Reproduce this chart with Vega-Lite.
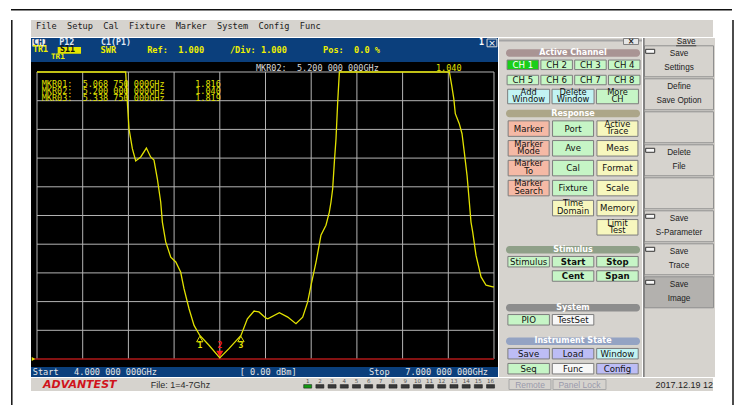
{
  "$schema": "https://vega.github.io/schema/vega-lite/v6.json",
  "background": "white",
  "padding": {"left": 10, "top": 9, "right": 0, "bottom": 0},
  "config": {"view": {"stroke": null}, "concat": {"spacing": 0}, "font": "DejaVu Sans", "text": {"lineBreak": "\n"}},
  "datasets": {
    "trace": [
      {"f": 4.0, "swr": 11.0}, {"f": 4.582, "swr": 11.0}, {"f": 4.593, "swr": 9.96}, {"f": 4.604, "swr": 9.02},
      {"f": 4.626, "swr": 8.33}, {"f": 4.648, "swr": 7.9}, {"f": 4.681, "swr": 8.04}, {"f": 4.718, "swr": 8.35},
      {"f": 4.746, "swr": 8.04}, {"f": 4.768, "swr": 7.93}, {"f": 4.79, "swr": 7.28}, {"f": 4.812, "swr": 6.47},
      {"f": 4.823, "swr": 5.77}, {"f": 4.845, "swr": 5.08}, {"f": 4.878, "swr": 4.55}, {"f": 4.911, "swr": 4.38},
      {"f": 4.943, "swr": 4.03}, {"f": 4.965, "swr": 3.45}, {"f": 4.998, "swr": 2.75}, {"f": 5.031, "swr": 2.17},
      {"f": 5.069, "swr": 1.82}, {"f": 5.129, "swr": 1.48}, {"f": 5.2, "swr": 1.04}, {"f": 5.26, "swr": 1.36},
      {"f": 5.339, "swr": 1.82}, {"f": 5.381, "swr": 2.4}, {"f": 5.425, "swr": 2.67}, {"f": 5.457, "swr": 2.64},
      {"f": 5.501, "swr": 2.43}, {"f": 5.515, "swr": 2.4}, {"f": 5.591, "swr": 2.61}, {"f": 5.646, "swr": 2.46},
      {"f": 5.7, "swr": 2.23}, {"f": 5.744, "swr": 2.46}, {"f": 5.777, "swr": 2.99}, {"f": 5.799, "swr": 3.57},
      {"f": 5.832, "swr": 4.38}, {"f": 5.864, "swr": 5.31}, {"f": 5.897, "swr": 5.66}, {"f": 5.919, "swr": 6.12},
      {"f": 5.93, "swr": 6.47}, {"f": 5.941, "swr": 6.93}, {"f": 5.952, "swr": 7.86}, {"f": 5.963, "swr": 8.68},
      {"f": 5.974, "swr": 9.96}, {"f": 5.985, "swr": 11.0}, {"f": 6.707, "swr": 11.0}, {"f": 6.722, "swr": 10.54},
      {"f": 6.736, "swr": 10.07}, {"f": 6.746, "swr": 9.55}, {"f": 6.772, "swr": 9.2}, {"f": 6.79, "swr": 8.85},
      {"f": 6.805, "swr": 8.21}, {"f": 6.823, "swr": 7.4}, {"f": 6.838, "swr": 6.47}, {"f": 6.849, "swr": 5.77},
      {"f": 6.86, "swr": 5.43}, {"f": 6.882, "swr": 4.61}, {"f": 6.915, "swr": 3.86}, {"f": 6.948, "swr": 3.57},
      {"f": 6.992, "swr": 3.51}, {"f": 7.0, "swr": 3.51}
    ],
    "markers": [
      {"marker": "1", "f": 5.06875, "swr": 1.816},
      {"marker": "2", "f": 5.2, "swr": 1.04},
      {"marker": "3", "f": 5.33875, "swr": 1.819}
    ],
    "buttons": [
      {"label": "CH 1", "kind": "active", "grp": "ch", "slot": 3, "col": 1},
      {"label": "CH 2", "kind": "channel", "grp": "ch", "slot": 3, "col": 2},
      {"label": "CH 3", "kind": "channel", "grp": "ch", "slot": 3, "col": 3},
      {"label": "CH 4", "kind": "channel", "grp": "ch", "slot": 3, "col": 4},
      {"label": "CH 5", "kind": "channel", "grp": "ch", "slot": 4, "col": 1},
      {"label": "CH 6", "kind": "channel", "grp": "ch", "slot": 4, "col": 2},
      {"label": "CH 7", "kind": "channel", "grp": "ch", "slot": 4, "col": 3},
      {"label": "CH 8", "kind": "channel", "grp": "ch", "slot": 4, "col": 4},
      {"label": "Add\nWindow", "kind": "window", "grp": "add", "slot": 5, "col": 1},
      {"label": "Delete\nWindow", "kind": "window", "grp": "add", "slot": 5, "col": 2},
      {"label": "More\nCH", "kind": "setup", "grp": "add", "slot": 5, "col": 3},
      {"label": "Marker", "kind": "marker", "grp": "resp", "slot": 7, "col": 1},
      {"label": "Port", "kind": "setup", "grp": "resp", "slot": 7, "col": 2},
      {"label": "Active\nTrace", "kind": "display", "grp": "resp", "slot": 7, "col": 3},
      {"label": "Marker\nMode", "kind": "marker", "grp": "resp", "slot": 8, "col": 1},
      {"label": "Ave", "kind": "setup", "grp": "resp", "slot": 8, "col": 2},
      {"label": "Meas", "kind": "display", "grp": "resp", "slot": 8, "col": 3},
      {"label": "Marker\nTo", "kind": "marker", "grp": "resp", "slot": 9, "col": 1},
      {"label": "Cal", "kind": "setup", "grp": "resp", "slot": 9, "col": 2},
      {"label": "Format", "kind": "display", "grp": "resp", "slot": 9, "col": 3},
      {"label": "Marker\nSearch", "kind": "marker", "grp": "resp", "slot": 10, "col": 1},
      {"label": "Fixture", "kind": "setup", "grp": "resp", "slot": 10, "col": 2},
      {"label": "Scale", "kind": "display", "grp": "resp", "slot": 10, "col": 3},
      {"label": "Time\nDomain", "kind": "display", "grp": "resp", "slot": 11, "col": 2},
      {"label": "Memory", "kind": "display", "grp": "resp", "slot": 11, "col": 3},
      {"label": "Limit\nTest", "kind": "display", "grp": "resp", "slot": 12, "col": 3},
      {"label": "Stimulus", "kind": "setup", "grp": "stim", "slot": 14, "col": 1},
      {"label": "Start", "kind": "setup", "grp": "stim", "slot": 14, "col": 2},
      {"label": "Stop", "kind": "setup", "grp": "stim", "slot": 14, "col": 3},
      {"label": "Cent", "kind": "setup", "grp": "stim", "slot": 15, "col": 2},
      {"label": "Span", "kind": "setup", "grp": "stim", "slot": 15, "col": 3},
      {"label": "PIO", "kind": "setup", "grp": "sys", "slot": 17, "col": 1},
      {"label": "TestSet", "kind": "other", "grp": "sys", "slot": 17, "col": 2},
      {"label": "Save", "kind": "file", "grp": "state", "slot": 19, "col": 1},
      {"label": "Load", "kind": "file", "grp": "state", "slot": 19, "col": 2},
      {"label": "Window", "kind": "window", "grp": "state", "slot": 19, "col": 3},
      {"label": "Seq", "kind": "setup", "grp": "state", "slot": 20, "col": 1},
      {"label": "Func", "kind": "other", "grp": "state", "slot": 20, "col": 2},
      {"label": "Config", "kind": "file", "grp": "state", "slot": 20, "col": 3}
    ],
    "pills": [
      {"label": "Active Channel", "kind": "hdr_channel", "slot": 2},
      {"label": "Response", "kind": "hdr_response", "slot": 6},
      {"label": "Stimulus", "kind": "hdr_stimulus", "slot": 13},
      {"label": "System", "kind": "hdr_system", "slot": 16},
      {"label": "Instrument State", "kind": "hdr_state", "slot": 18}
    ],
    "softkeys": [
      {"slot": 1, "label": "Save\nSettings", "ind": true, "kind": "softkey"},
      {"slot": 2, "label": "Define\nSave Option", "ind": false, "kind": "softkey"},
      {"slot": 3, "label": "", "ind": false, "kind": "softkey"},
      {"slot": 4, "label": "Delete\nFile", "ind": true, "kind": "softkey"},
      {"slot": 5, "label": "", "ind": false, "kind": "softkey"},
      {"slot": 6, "label": "Save\nS-Parameter", "ind": true, "kind": "softkey"},
      {"slot": 7, "label": "Save\nTrace", "ind": true, "kind": "softkey"},
      {"slot": 8, "label": "Save\nImage", "ind": true, "kind": "pressed"}
    ],
    "ports": [
      {"n": 1, "state": "on"}, {"n": 2, "state": "off"}, {"n": 3, "state": "off"}, {"n": 4, "state": "off"},
      {"n": 5, "state": "off"}, {"n": 6, "state": "off"}, {"n": 7, "state": "off"}, {"n": 8, "state": "off"},
      {"n": 9, "state": "off"}, {"n": 10, "state": "off"}, {"n": 11, "state": "off"}, {"n": 12, "state": "off"},
      {"n": 13, "state": "off"}, {"n": 14, "state": "off"}, {"n": 15, "state": "off"}, {"n": 16, "state": "off"}
    ]
  },
  "spacing": 0,
  "resolve": {"scale": {"color": "independent"}},
  "vconcat": [
    {
      "width": 721, "height": 10,
      "data": {"values": [{}]},
      "mark": {"type": "rule", "color": "#111111", "strokeWidth": 1.5},
      "encoding": {"y": {"datum": 0.8, "type": "quantitative", "scale": {"domain": [0, 10], "reverse": true, "nice": false, "zero": false}, "axis": null}}
    },
    {
      "spacing": 0,
      "resolve": {"scale": {"color": "independent"}},
      "hconcat": [
        {
          "width": 20, "height": 386,
          "data": {"values": [{}]},
          "mark": {"type": "rule", "color": "#111111", "strokeWidth": 1.5},
          "encoding": {"x": {"datum": 0.8, "type": "quantitative", "scale": {"domain": [0, 20], "nice": false, "zero": false}, "axis": null}}
        },
        {
          "spacing": 0,
          "resolve": {"scale": {"color": "independent"}},
          "vconcat": [
            {
              "width": 682, "height": 17,
              "view": {"fill": "#d6d3ce", "stroke": null},
              "data": {"values": [{}]},
              "mark": {"type": "text", "align": "left", "baseline": "middle", "font": "DejaVu Sans Mono", "fontSize": 8.6, "fill": "#1a1a1a",
                "text": "File\u00a0\u00a0Setup\u00a0\u00a0Cal\u00a0\u00a0Fixture\u00a0\u00a0Marker\u00a0\u00a0System\u00a0\u00a0Config\u00a0\u00a0Func"},
              "encoding": {
                "x": {"datum": 0.96, "type": "quantitative", "scale": {"domain": [0, 131.15], "nice": false, "zero": false}, "axis": null},
                "y": {"datum": 0.335, "type": "quantitative", "scale": {"domain": [0, 1], "reverse": true, "nice": false, "zero": false}, "axis": null}
              }
            },
            {
              "spacing": 0,
              "resolve": {"scale": {"color": "independent"}},
              "hconcat": [
                {
                  "spacing": 0,
                  "vconcat": [
                    {
                      "width": 467, "height": 24,
                      "view": {"fill": "#0b3f7c", "stroke": null},
                      "data": {"values": [{}]},
                      "layer": [
                        {"mark": {"type": "rect", "fill": "#eeeeee"},
                         "encoding": {"x": {"datum": 0.25, "type": "quantitative", "scale": {"domain": [0, 89.808], "nice": false, "zero": false}, "axis": null}, "x2": {"datum": 2.85},
                                      "y": {"datum": 0.12, "type": "quantitative", "scale": {"domain": [0, 3], "reverse": true, "nice": false, "zero": false}, "axis": null}, "y2": {"datum": 1.06}}},
                        {"mark": {"type": "rect", "fill": "#e6e600"},
                         "encoding": {"x": {"datum": 5.13, "type": "quantitative"}, "x2": {"datum": 9.62}, "y": {"datum": 1.12, "type": "quantitative"}, "y2": {"datum": 1.96}}},
                        {"mark": {"type": "rect", "fill": "#0b3f7c", "stroke": "#d8d8d8", "strokeWidth": 1},
                         "encoding": {"x": {"datum": 87.7, "type": "quantitative"}, "x2": {"datum": 89.6}, "y": {"datum": 0.12, "type": "quantitative"}, "y2": {"datum": 1.1}}},
                        {"mark": {"type": "text", "align": "left", "baseline": "middle", "font": "DejaVu Sans Mono", "fontSize": 8.3, "fontWeight": "bold", "fill": "#0b3f7c", "text": "CH1"},
                         "encoding": {"x": {"datum": 0.38, "type": "quantitative"}, "y": {"datum": 0.59, "type": "quantitative"}}},
                        {"mark": {"type": "text", "align": "left", "baseline": "middle", "font": "DejaVu Sans Mono", "fontSize": 8.3, "fontWeight": "bold", "fill": "#dfe6f2", "text": "P12"},
                         "encoding": {"x": {"datum": 5.44, "type": "quantitative"}, "y": {"datum": 0.59, "type": "quantitative"}}},
                        {"mark": {"type": "text", "align": "left", "baseline": "middle", "font": "DejaVu Sans Mono", "fontSize": 8.3, "fontWeight": "bold", "fill": "#dfe6f2", "text": "C1(P1)"},
                         "encoding": {"x": {"datum": 13.46, "type": "quantitative"}, "y": {"datum": 0.59, "type": "quantitative"}}},
                        {"mark": {"type": "text", "align": "left", "baseline": "middle", "font": "DejaVu Sans Mono", "fontSize": 8.3, "fontWeight": "bold", "fill": "#f0f000", "text": "TR1"},
                         "encoding": {"x": {"datum": 0.38, "type": "quantitative"}, "y": {"datum": 1.54, "type": "quantitative"}}},
                        {"mark": {"type": "text", "align": "left", "baseline": "middle", "font": "DejaVu Sans Mono", "fontSize": 8.6, "fontWeight": "bold", "fill": "#f0f000",
                          "text": "SWR\u00a0\u00a0\u00a0\u00a0\u00a0\u00a0Ref:\u00a0\u00a01.000\u00a0\u00a0\u00a0\u00a0\u00a0/Div:\u00a01.000\u00a0\u00a0\u00a0\u00a0\u00a0\u00a0\u00a0Pos:\u00a0\u00a00.0\u00a0%"},
                         "encoding": {"x": {"datum": 13.38, "type": "quantitative"}, "y": {"datum": 1.54, "type": "quantitative"}}},
                        {"mark": {"type": "text", "align": "left", "baseline": "middle", "font": "DejaVu Sans Mono", "fontSize": 8.3, "fontWeight": "bold", "fill": "#111111", "text": "S11"},
                         "encoding": {"x": {"datum": 5.6, "type": "quantitative"}, "y": {"datum": 1.54, "type": "quantitative"}}},
                        {"mark": {"type": "text", "align": "left", "baseline": "middle", "font": "DejaVu Sans Mono", "fontSize": 7.6, "fontWeight": "bold", "fill": "#f0f000", "text": "TR1"},
                         "encoding": {"x": {"datum": 3.85, "type": "quantitative"}, "y": {"datum": 2.33, "type": "quantitative"}}},
                        {"mark": {"type": "text", "align": "left", "baseline": "middle", "font": "DejaVu Sans Mono", "fontSize": 8.3, "fontWeight": "bold", "fill": "#ffffff", "text": "1"},
                         "encoding": {"x": {"datum": 86.15, "type": "quantitative"}, "y": {"datum": 0.59, "type": "quantitative"}}},
                        {"mark": {"type": "text", "align": "center", "baseline": "middle", "fontSize": 9, "fill": "#ffffff", "text": "×"},
                         "encoding": {"x": {"datum": 88.65, "type": "quantitative"}, "y": {"datum": 0.62, "type": "quantitative"}}}
                      ]
                    },
                    {
                      "width": 467, "height": 305,
                      "view": {"fill": "#000000", "stroke": null},
                      "layer": [
                        {"data": {"values": [{"f": 4.0}, {"f": 4.3}, {"f": 4.6}, {"f": 4.9}, {"f": 5.2}, {"f": 5.5}, {"f": 5.8}, {"f": 6.1}, {"f": 6.4}, {"f": 6.7}, {"f": 7.0}]},
                         "mark": {"type": "rule", "color": "#b4b4b4", "strokeWidth": 1},
                         "encoding": {"x": {"field": "f", "type": "quantitative", "scale": {"domain": [3.96061, 7.02626], "nice": false, "zero": false}, "axis": null},
                                      "y": {"datum": 1, "type": "quantitative", "scale": {"domain": [0.72125, 11.3484], "nice": false, "zero": false}, "axis": null}, "y2": {"datum": 11}}},
                        {"data": {"values": [{"s": 2}, {"s": 3}, {"s": 4}, {"s": 5}, {"s": 6}, {"s": 7}, {"s": 8}, {"s": 9}, {"s": 10}, {"s": 11}]},
                         "mark": {"type": "rule", "color": "#b4b4b4", "strokeWidth": 1},
                         "encoding": {"y": {"field": "s", "type": "quantitative"}, "x": {"datum": 4.0, "type": "quantitative"}, "x2": {"datum": 7.0}}},
                        {"data": {"values": [{}]},
                         "mark": {"type": "rule", "color": "#b01818", "strokeWidth": 1.6},
                         "encoding": {"y": {"datum": 1, "type": "quantitative"}, "x": {"datum": 3.975, "type": "quantitative"}, "x2": {"datum": 7.0}}},
                        {"data": {"values": [{}]},
                         "mark": {"type": "point", "shape": "triangle-right", "filled": true, "color": "#e6e600", "size": 16, "opacity": 1},
                         "encoding": {"y": {"datum": 1, "type": "quantitative"}, "x": {"datum": 3.977, "type": "quantitative"}}},
                        {"data": {"name": "trace"},
                         "mark": {"type": "line", "color": "#e2e200", "strokeWidth": 1.3},
                         "encoding": {"x": {"field": "f", "type": "quantitative"}, "y": {"field": "swr", "type": "quantitative"}}},
                        {"data": {"name": "markers"}, "transform": [{"filter": "datum.marker != '2'"}],
                         "mark": {"type": "point", "shape": "triangle-up", "filled": false, "color": "#e6e600", "strokeWidth": 1, "size": 40, "yOffset": 3.5, "opacity": 1},
                         "encoding": {"x": {"field": "f", "type": "quantitative"}, "y": {"field": "swr", "type": "quantitative"}}},
                        {"data": {"name": "markers"}, "transform": [{"filter": "datum.marker != '2'"}],
                         "mark": {"type": "text", "font": "DejaVu Sans Mono", "fontSize": 8, "fontWeight": "bold", "fill": "#e6e600", "yOffset": 10.5},
                         "encoding": {"x": {"field": "f", "type": "quantitative"}, "y": {"field": "swr", "type": "quantitative"}, "text": {"field": "marker"}}},
                        {"data": {"name": "markers"}, "transform": [{"filter": "datum.marker == '2'"}],
                         "mark": {"type": "point", "shape": "triangle-down", "filled": true, "color": "#ff1a1a", "size": 50, "yOffset": -4, "opacity": 1},
                         "encoding": {"x": {"field": "f", "type": "quantitative"}, "y": {"field": "swr", "type": "quantitative"}}},
                        {"data": {"name": "markers"}, "transform": [{"filter": "datum.marker == '2'"}],
                         "mark": {"type": "text", "font": "DejaVu Sans Mono", "fontSize": 8, "fontWeight": "bold", "fill": "#ff1a1a", "yOffset": -11.5},
                         "encoding": {"x": {"field": "f", "type": "quantitative"}, "y": {"field": "swr", "type": "quantitative"}, "text": {"field": "marker"}}},
                        {"data": {"values": [{}]},
                         "mark": {"type": "text", "align": "left", "baseline": "middle", "font": "DejaVu Sans Mono", "fontSize": 8.5, "fill": "#e2e200", "lineHeight": 7.15,
                           "text": ["MKR01:\u00a0\u00a05.068\u00a0750\u00a0000GHz\u00a0\u00a0\u00a0\u00a0\u00a0\u00a01.816",
                                    "MKR02:\u00a0\u00a05.200\u00a0000\u00a0000GHz\u00a0\u00a0\u00a0\u00a0\u00a0\u00a01.040",
                                    "MKR03:\u00a0\u00a05.338\u00a0750\u00a0000GHz\u00a0\u00a0\u00a0\u00a0\u00a0\u00a01.819"]},
                         "encoding": {"x": {"datum": 4.0308, "type": "quantitative"}, "y": {"datum": 10.592, "type": "quantitative"}}},
                        {"data": {"values": [{}]},
                         "mark": {"type": "text", "align": "left", "baseline": "middle", "font": "DejaVu Sans Mono", "fontSize": 8.5, "fill": "#d8d8d8",
                           "text": "MKR02:\u00a0\u00a05.200\u00a0000\u00a0000GHz"},
                         "encoding": {"x": {"datum": 5.4376, "type": "quantitative"}, "y": {"datum": 11.139, "type": "quantitative"}}},
                        {"data": {"values": [{}]},
                         "mark": {"type": "text", "align": "left", "baseline": "middle", "font": "DejaVu Sans Mono", "fontSize": 8.5, "fill": "#e2e200", "text": "1.040"},
                         "encoding": {"x": {"datum": 6.6193, "type": "quantitative"}, "y": {"datum": 11.139, "type": "quantitative"}}}
                      ]
                    },
                    {
                      "width": 467, "height": 10,
                      "view": {"fill": "#0b3f7c", "stroke": null},
                      "data": {"values": [{}]},
                      "mark": {"type": "text", "align": "left", "baseline": "middle", "font": "DejaVu Sans Mono", "fontSize": 8.6, "fill": "#e6e6e6",
                        "text": "Start\u00a0\u00a0\u00a04.000\u00a0000\u00a0000GHz\u00a0\u00a0\u00a0\u00a0\u00a0\u00a0\u00a0\u00a0\u00a0\u00a0\u00a0\u00a0\u00a0\u00a0\u00a0\u00a0[\u00a00.00\u00a0dBm]\u00a0\u00a0\u00a0\u00a0\u00a0\u00a0\u00a0\u00a0\u00a0\u00a0\u00a0\u00a0\u00a0\u00a0Stop\u00a0\u00a0\u00a07.000\u00a0000\u00a0000GHz"},
                      "encoding": {"x": {"datum": 0.33, "type": "quantitative", "scale": {"domain": [0, 89.808], "nice": false, "zero": false}, "axis": null}}
                    }
                  ]
                },
                {
                  "width": 143, "height": 339,
                  "view": {"fill": "#d6d3ce", "stroke": null},
                  "resolve": {"scale": {"x": "independent"}},
                  "layer": [
                    {"data": {"values": [{}]},
                     "mark": {"type": "rule", "color": "#a4a4a4", "strokeWidth": 2},
                     "encoding": {"y": {"datum": 1, "type": "quantitative", "scale": {"domain": [1, 2, 3, 4, 5, 6, 7, 8, 9, 10, 11, 12, 13, 14, 15, 16, 17, 18, 19, 20], "range": [2.5, 15, 26.8, 42, 58.5, 75.5, 90.6, 110.3, 130.1, 150.1, 170.1, 189.3, 211.7, 223.7, 238, 269.7, 281.8, 303.2, 315.7, 330.7], "nice": false, "zero": false}, "axis": null}}},
                    {"data": {"values": [{}]},
                     "mark": {"type": "tick", "orient": "horizontal", "thickness": 6, "opacity": 1, "color": "#e6e6e6", "stroke": "#808080", "strokeWidth": 1, "xOffset": 60.5, "yOffset": 1, "clip": true},
                     "encoding": {"y": {"datum": 1, "type": "quantitative"}, "size": {"value": 15}}},
                    {"data": {"values": [{}]},
                     "mark": {"type": "text", "fontSize": 8, "fontWeight": "bold", "fill": "#222222", "xOffset": 60.5, "yOffset": 1, "text": "×", "clip": true},
                     "encoding": {"y": {"datum": 1, "type": "quantitative"}}},
                    {"data": {"name": "pills"},
                     "mark": {"type": "tick", "orient": "horizontal", "thickness": 7.5, "cornerRadius": 3.5, "opacity": 1, "xOffset": 2.5},
                     "encoding": {"y": {"field": "slot", "type": "quantitative"}, "size": {"value": 134},
                                  "color": {"field": "kind", "type": "nominal", "legend": null, "scale": {"domain": ["active", "channel", "window", "marker", "setup", "display", "file", "other", "hdr_channel", "hdr_response", "hdr_stimulus", "hdr_system", "hdr_state"], "range": ["#19cf19", "#c6f7c6", "#c2f3f3", "#f5b9a5", "#c6f5c6", "#f7f7be", "#bdbdf5", "#f7f7f7", "#a99494", "#aca689", "#8fa088", "#8d8d8d", "#94a3c3"]}}}},
                    {"data": {"name": "pills"},
                     "mark": {"type": "text", "fill": "#ffffff", "fontWeight": "bold", "fontSize": 8, "baseline": "middle", "xOffset": 2.5},
                     "encoding": {"y": {"field": "slot", "type": "quantitative"}, "text": {"field": "label"}}},
                    {"data": {"name": "buttons"}, "transform": [{"filter": "datum.grp == 'ch'"}],
                     "mark": {"type": "tick", "orient": "horizontal", "thickness": 9.5, "opacity": 1, "stroke": "#7d7d7d", "strokeWidth": 1},
                     "encoding": {"x": {"field": "col", "type": "ordinal", "scale": {"type": "band", "domain": [1, 2, 3, 4], "paddingInner": 0, "paddingOuter": 0.1154, "align": 0.891}, "axis": null},
                                  "y": {"field": "slot", "type": "quantitative"}, "size": {"value": 31.5},
                                  "color": {"field": "kind", "type": "nominal", "legend": null}}},
                    {"data": {"name": "buttons"}, "transform": [{"filter": "datum.grp == 'add'"}],
                     "mark": {"type": "tick", "orient": "horizontal", "thickness": 14.5, "opacity": 1, "stroke": "#7d7d7d", "strokeWidth": 1},
                     "encoding": {"x": {"field": "col", "type": "ordinal", "scale": {"type": "band", "domain": [1, 2, 3], "paddingInner": 0, "paddingOuter": 0.1104, "align": 0.76}, "axis": null},
                                  "y": {"field": "slot", "type": "quantitative"}, "size": {"value": 42},
                                  "color": {"field": "kind", "type": "nominal", "legend": null}}},
                    {"data": {"name": "buttons"}, "transform": [{"filter": "datum.grp == 'resp'"}],
                     "mark": {"type": "tick", "orient": "horizontal", "thickness": 15.5, "opacity": 1, "stroke": "#7d7d7d", "strokeWidth": 1},
                     "encoding": {"x": {"field": "col", "type": "ordinal", "scale": {"type": "band", "domain": [1, 2, 3], "paddingInner": 0, "paddingOuter": 0.1104, "align": 0.76}, "axis": null},
                                  "y": {"field": "slot", "type": "quantitative"}, "size": {"value": 41},
                                  "color": {"field": "kind", "type": "nominal", "legend": null}}},
                    {"data": {"name": "buttons"}, "transform": [{"filter": "datum.grp == 'stim' || datum.grp == 'sys' || datum.grp == 'state'"}],
                     "mark": {"type": "tick", "orient": "horizontal", "thickness": 10.5, "opacity": 1, "stroke": "#7d7d7d", "strokeWidth": 1},
                     "encoding": {"x": {"field": "col", "type": "ordinal", "scale": {"type": "band", "domain": [1, 2, 3], "paddingInner": 0, "paddingOuter": 0.1104, "align": 0.76}, "axis": null},
                                  "y": {"field": "slot", "type": "quantitative"}, "size": {"value": 41.5},
                                  "color": {"field": "kind", "type": "nominal", "legend": null}}},
                    {"data": {"name": "buttons"}, "transform": [{"filter": "datum.grp == 'ch' && datum.label != 'CH 1'"}],
                     "mark": {"type": "text", "fontSize": 8.6, "fill": "#111111", "baseline": "middle"},
                     "encoding": {"x": {"field": "col", "type": "ordinal", "scale": {"type": "band", "domain": [1, 2, 3, 4], "paddingInner": 0, "paddingOuter": 0.1154, "align": 0.891}, "axis": null},
                                  "y": {"field": "slot", "type": "quantitative"}, "text": {"field": "label"}}},
                    {"data": {"name": "buttons"}, "transform": [{"filter": "datum.label == 'CH 1'"}],
                     "mark": {"type": "text", "fontSize": 8.6, "fill": "#ffffff", "baseline": "middle"},
                     "encoding": {"x": {"field": "col", "type": "ordinal", "scale": {"type": "band", "domain": [1, 2, 3, 4], "paddingInner": 0, "paddingOuter": 0.1154, "align": 0.891}, "axis": null},
                                  "y": {"field": "slot", "type": "quantitative"}, "text": {"field": "label"}}},
                    {"data": {"name": "buttons"}, "transform": [{"filter": "datum.grp != 'ch' && indexof(['Start', 'Stop', 'Cent', 'Span'], datum.label) < 0 && indexof(datum.label, '\\n') < 0"}],
                     "mark": {"type": "text", "fontSize": 8.6, "fill": "#111111", "baseline": "middle"},
                     "encoding": {"x": {"field": "col", "type": "ordinal", "scale": {"type": "band", "domain": [1, 2, 3], "paddingInner": 0, "paddingOuter": 0.1104, "align": 0.76}, "axis": null},
                                  "y": {"field": "slot", "type": "quantitative"}, "text": {"field": "label"}}},
                    {"data": {"name": "buttons"}, "transform": [{"filter": "indexof(datum.label, '\\n') >= 0"}],
                     "mark": {"type": "text", "fontSize": 8.3, "fill": "#111111", "baseline": "middle", "lineHeight": 7.6, "yOffset": -3.8},
                     "encoding": {"x": {"field": "col", "type": "ordinal", "scale": {"type": "band", "domain": [1, 2, 3], "paddingInner": 0, "paddingOuter": 0.1104, "align": 0.76}, "axis": null},
                                  "y": {"field": "slot", "type": "quantitative"}, "text": {"field": "label"}}},
                    {"data": {"name": "buttons"}, "transform": [{"filter": "indexof(['Start', 'Stop', 'Cent', 'Span'], datum.label) >= 0"}],
                     "mark": {"type": "text", "fontSize": 8.6, "fontWeight": "bold", "fill": "#111111", "baseline": "middle"},
                     "encoding": {"x": {"field": "col", "type": "ordinal", "scale": {"type": "band", "domain": [1, 2, 3], "paddingInner": 0, "paddingOuter": 0.1104, "align": 0.76}, "axis": null},
                                  "y": {"field": "slot", "type": "quantitative"}, "text": {"field": "label"}}}
                  ]
                },
                {
                  "width": 72, "height": 339,
                  "view": {"fill": "#d6d3ce", "stroke": null},
                  "layer": [
                    {"data": {"name": "softkeys"},
                     "mark": {"type": "tick", "orient": "horizontal", "thickness": 31, "opacity": 1, "stroke": "#8f8f8f", "strokeWidth": 1},
                     "encoding": {"y": {"field": "slot", "type": "quantitative", "scale": {"domain": [0.294, 10.567], "reverse": true, "nice": false, "zero": false}, "axis": null},
                                  "size": {"value": 69},
                                  "color": {"field": "kind", "type": "nominal", "legend": null, "scale": {"domain": ["softkey", "pressed"], "range": ["#d6d3ce", "#b3b1ae"]}}}},
                    {"data": {"name": "softkeys"},
                     "mark": {"type": "text", "font": "Liberation Sans", "fontSize": 8.2, "fill": "#222222", "baseline": "middle", "lineHeight": 13.6, "yOffset": -6.8},
                     "encoding": {"y": {"field": "slot", "type": "quantitative"}, "text": {"field": "label"}}},
                    {"data": {"name": "softkeys"}, "transform": [{"filter": "datum.ind"}],
                     "mark": {"type": "tick", "orient": "horizontal", "thickness": 4, "opacity": 1, "color": "#f8f8f8", "stroke": "#333333", "strokeWidth": 1, "yOffset": -10},
                     "encoding": {"x": {"datum": 0.1, "type": "quantitative", "scale": {"domain": [0, 1], "nice": false, "zero": false}, "axis": null},
                                  "y": {"field": "slot", "type": "quantitative"}, "size": {"value": 9}}},
                    {"data": {"values": [{}]},
                     "mark": {"type": "rule", "color": "#7a7a7a", "strokeWidth": 1.5},
                     "encoding": {"x": {"datum": 0.012, "type": "quantitative"}}},
                    {"data": {"values": [{}]},
                     "mark": {"type": "text", "font": "Liberation Sans", "fontSize": 8.2, "fill": "#222222", "baseline": "middle", "text": "Save", "clip": true},
                     "encoding": {"x": {"datum": 0.6, "type": "quantitative"}, "y": {"datum": 0.43, "type": "quantitative"}}},
                    {"data": {"values": [{}]},
                     "mark": {"type": "rule", "color": "#222222", "strokeWidth": 0.8},
                     "encoding": {"x": {"datum": 0.46, "type": "quantitative"}, "x2": {"datum": 0.74}, "y": {"datum": 0.53, "type": "quantitative"}}}
                  ]
                }
              ]
            },
            {
              "spacing": 0,
              "resolve": {"scale": {"color": "independent"}},
              "hconcat": [
                {
                  "width": 255, "height": 13,
                  "view": {"fill": "#d6d3ce", "stroke": null},
                  "data": {"values": [{}]},
                  "layer": [
                    {"mark": {"type": "text", "align": "left", "baseline": "middle", "fontSize": 11, "fontWeight": "bold", "fontStyle": "italic", "fill": "#d0141c", "text": "ADVANTEST"},
                     "encoding": {"x": {"datum": 0.047, "type": "quantitative", "scale": {"domain": [0, 1], "nice": false, "zero": false}, "axis": null}}},
                    {"mark": {"type": "text", "align": "left", "baseline": "middle", "font": "Liberation Sans", "fontSize": 9, "fill": "#2a2a2a", "text": "File: 1=4-7Ghz"},
                     "encoding": {"x": {"datum": 0.47, "type": "quantitative"}}}
                  ]
                },
                {
                  "width": 220, "height": 13,
                  "view": {"fill": "#d6d3ce", "stroke": null},
                  "data": {"name": "ports"},
                  "layer": [
                    {"mark": {"type": "bar", "width": 8, "stroke": "#222222", "strokeWidth": 0.6},
                     "encoding": {"x": {"field": "n", "type": "quantitative", "scale": {"domain": [-0.37, 16.858], "nice": false, "zero": false}, "axis": null},
                                  "y": {"datum": 6.6, "type": "quantitative", "scale": {"domain": [0, 13], "reverse": true, "nice": false, "zero": false}, "axis": null}, "y2": {"datum": 10.1},
                                  "color": {"field": "state", "type": "nominal", "legend": null, "scale": {"domain": ["on", "off"], "range": ["#129a12", "#3a3a3a"]}}}},
                    {"mark": {"type": "text", "fontSize": 5.5, "fill": "#555555", "baseline": "middle"},
                     "encoding": {"x": {"field": "n", "type": "quantitative"}, "y": {"datum": 3.2, "type": "quantitative"}, "text": {"field": "n", "type": "quantitative"}}}
                  ]
                },
                {
                  "width": 207, "height": 13,
                  "view": {"fill": "#d6d3ce", "stroke": null},
                  "data": {"values": [{}]},
                  "layer": [
                    {"mark": {"type": "rect", "fill": "#d6d3ce", "stroke": "#a8a8a8", "strokeWidth": 1},
                     "encoding": {"x": {"datum": 0.0145, "type": "quantitative", "scale": {"domain": [0, 1], "nice": false, "zero": false}, "axis": null}, "x2": {"datum": 0.217},
                                  "y": {"datum": 0.115, "type": "quantitative", "scale": {"domain": [0, 1], "nice": false, "zero": false}, "axis": null}, "y2": {"datum": 0.885}}},
                    {"mark": {"type": "rect", "fill": "#d6d3ce", "stroke": "#a8a8a8", "strokeWidth": 1},
                     "encoding": {"x": {"datum": 0.227, "type": "quantitative"}, "x2": {"datum": 0.483}, "y": {"datum": 0.115, "type": "quantitative"}, "y2": {"datum": 0.885}}},
                    {"mark": {"type": "text", "font": "Liberation Sans", "fontSize": 8.5, "fill": "#9a9aac", "baseline": "middle", "text": "Remote"},
                     "encoding": {"x": {"datum": 0.116, "type": "quantitative"}}},
                    {"mark": {"type": "text", "font": "Liberation Sans", "fontSize": 8.5, "fill": "#9a9aac", "baseline": "middle", "text": "Panel Lock"},
                     "encoding": {"x": {"datum": 0.355, "type": "quantitative"}}},
                    {"mark": {"type": "text", "font": "Liberation Sans", "fontSize": 9, "fill": "#1e1e1e", "baseline": "middle", "align": "right", "text": "2017.12.19 12"},
                     "encoding": {"x": {"datum": 1.0, "type": "quantitative"}}}
                  ]
                }
              ]
            }
          ]
        },
        {
          "width": 19, "height": 386,
          "data": {"values": [{}]},
          "mark": {"type": "rule", "color": "#111111", "strokeWidth": 1.5},
          "encoding": {"x": {"datum": 18, "type": "quantitative", "scale": {"domain": [0, 19], "nice": false, "zero": false}, "axis": null}}
        }
      ]
    }
  ]
}
